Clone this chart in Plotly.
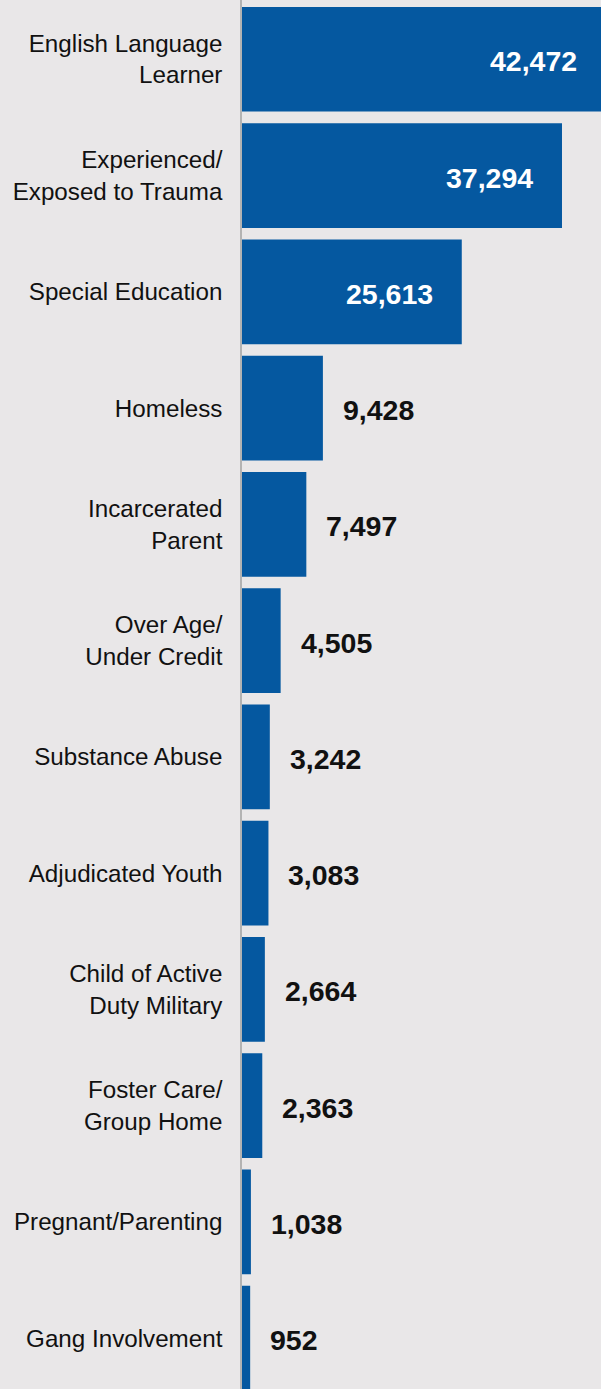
import plotly.graph_objects as go

categories = [
    "English Language<br>Learner",
    "Experienced/<br>Exposed to Trauma",
    "Special Education",
    "Homeless",
    "Incarcerated<br>Parent",
    "Over Age/<br>Under Credit",
    "Substance Abuse",
    "Adjudicated Youth",
    "Child of Active<br>Duty Military",
    "Foster Care/<br>Group Home",
    "Pregnant/Parenting",
    "Gang Involvement",
]
values = [42472, 37294, 25613, 9428, 7497, 4505, 3242, 3083, 2664, 2363, 1038, 952]

BG = "#e9e7e8"
BAR = "#0558a0"
FONT = "Liberation Sans, Arial, Helvetica, sans-serif"
INSIDE_MIN = 20000
X_MAX = 41840

fig = go.Figure(
    go.Bar(
        x=values,
        y=categories,
        orientation="h",
        marker=dict(color=BAR, line=dict(width=0)),
        hoverinfo="skip",
    )
)

annotations = []
for c, v in zip(categories, values):
    inside = v > INSIDE_MIN
    annotations.append(
        dict(
            xref="paper",
            x=v / X_MAX,  # x axis spans the full plot domain from 0
            y=c,
            text=f"{v:,}",
            showarrow=False,
            xanchor="right" if inside else "left",
            yanchor="middle",
            xshift=-27 if inside else 18,
            yshift=-2,
            font=dict(family=FONT, size=28.5, color="white" if inside else "#111111", weight="bold"),
        )
    )

fig.update_layout(
    width=601,
    height=1389,
    margin=dict(l=242, r=0, t=0, b=0),
    paper_bgcolor=BG,
    plot_bgcolor=BG,
    bargap=0.1,
    showlegend=False,
    annotations=annotations,
    xaxis=dict(
        range=[0, X_MAX],
        showgrid=False,
        zeroline=False,
        showticklabels=False,
        ticks="",
        fixedrange=True,
    ),
    yaxis=dict(
        range=[11.437, -0.51],
        showgrid=False,
        zeroline=False,
        showline=True,
        linecolor="#b3b3b3",
        linewidth=1.5,
        ticks="",
        ticklabelstandoff=13,
        tickfont=dict(family=FONT, size=24.2, color="#111111"),
        fixedrange=True,
    ),
)

fig.write_html("out.html", config={"displayModeBar": False})
